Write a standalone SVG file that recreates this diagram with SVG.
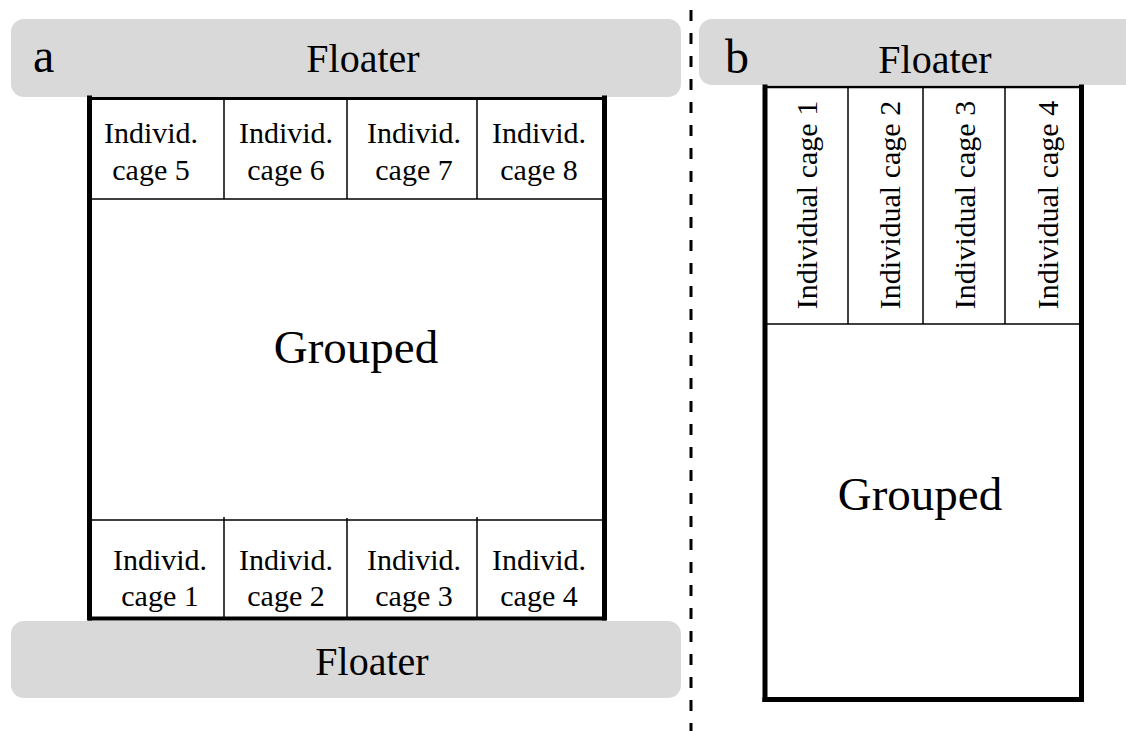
<svg xmlns="http://www.w3.org/2000/svg" width="1126" height="731" viewBox="0 0 1126 731">
<style>
text{font-family:"Liberation Serif","Times New Roman",serif;fill:#000}
.fl{fill:#d9d9d9}
.lbl{font-size:48px}
.fltx{font-size:40px;text-anchor:middle}
.cg{font-size:30px;text-anchor:middle}
.gr{font-size:47px;text-anchor:middle}
.thin{stroke:#000;stroke-width:1.5;fill:none}
.thick{stroke:#000;stroke-width:5;fill:none;stroke-linecap:square}
</style>
<rect width="1126" height="731" fill="#fff"/>
<g id="connectors">
<line x1="691" y1="10" x2="691" y2="731" stroke="#000" stroke-width="3" stroke-dasharray="11 12"/>
</g>
<g id="panel-a">
<g id="floater-a-top">
<rect class="fl" x="11" y="19" width="670" height="78" rx="13"/>
<text class="lbl" x="33" y="72">a</text>
<text class="fltx" x="363" y="72">Floater</text>
</g>
<g id="floater-a-bottom">
<rect class="fl" x="11" y="621" width="670" height="77" rx="13"/>
<text class="fltx" x="372" y="675">Floater</text>
</g>
<g id="cage-box-a">
<line class="thin" x1="89" y1="199" x2="604" y2="199"/>
<line class="thin" x1="89" y1="520" x2="604" y2="520"/>
<line class="thin" x1="224" y1="98" x2="224" y2="199"/>
<line class="thin" x1="347" y1="98" x2="347" y2="199"/>
<line class="thin" x1="477" y1="98" x2="477" y2="199"/>
<line class="thin" x1="224" y1="517" x2="224" y2="618"/>
<line class="thin" x1="347" y1="518" x2="347" y2="618"/>
<line class="thin" x1="477" y1="517" x2="477" y2="618"/>
<line x1="88" y1="98.5" x2="606" y2="98.5" stroke="#000" stroke-width="3"/>
<line x1="88" y1="618.5" x2="606" y2="618.5" stroke="#000" stroke-width="4"/>
<line class="thick" x1="89.5" y1="98" x2="89.5" y2="618"/>
<line class="thick" x1="604.5" y1="98" x2="604.5" y2="618"/>
</g>
<g id="cage-5"><text class="cg" x="151" y="143">Individ.</text><text class="cg" x="151" y="180">cage 5</text></g>
<g id="cage-6"><text class="cg" x="286" y="143">Individ.</text><text class="cg" x="286" y="180">cage 6</text></g>
<g id="cage-7"><text class="cg" x="414" y="143">Individ.</text><text class="cg" x="414" y="180">cage 7</text></g>
<g id="cage-8"><text class="cg" x="539" y="143">Individ.</text><text class="cg" x="539" y="180">cage 8</text></g>
<g id="grouped-a"><text class="gr" x="356" y="363">Grouped</text></g>
<g id="cage-1"><text class="cg" x="160" y="570">Individ.</text><text class="cg" x="160" y="606">cage 1</text></g>
<g id="cage-2"><text class="cg" x="286" y="570">Individ.</text><text class="cg" x="286" y="606">cage 2</text></g>
<g id="cage-3"><text class="cg" x="414" y="570">Individ.</text><text class="cg" x="414" y="606">cage 3</text></g>
<g id="cage-4"><text class="cg" x="539" y="570">Individ.</text><text class="cg" x="539" y="606">cage 4</text></g>
</g>
<g id="panel-b">
<g id="floater-b">
<rect class="fl" x="699" y="19" width="450" height="66" rx="13"/>
<text class="lbl" x="725" y="73">b</text>
<text class="fltx" x="935" y="73">Floater</text>
</g>
<g id="cage-box-b">
<line class="thin" x1="765" y1="324" x2="1081" y2="324"/>
<line class="thin" x1="848" y1="87" x2="848" y2="324"/>
<line class="thin" x1="923" y1="87" x2="923" y2="324"/>
<line class="thin" x1="1005" y1="87" x2="1005" y2="324"/>
<line x1="764" y1="87" x2="1082" y2="87" stroke="#000" stroke-width="2.5"/>
<line class="thick" x1="765" y1="87" x2="765" y2="699.5"/>
<line class="thick" x1="1081.5" y1="87" x2="1081.5" y2="699.5"/>
<line class="thick" x1="765" y1="699.5" x2="1081.5" y2="699.5"/>
</g>
<g id="b-cage-1"><text class="cg" transform="translate(816.5,205) rotate(-90)">Individual cage 1</text></g>
<g id="b-cage-2"><text class="cg" transform="translate(900,205) rotate(-90)">Individual cage 2</text></g>
<g id="b-cage-3"><text class="cg" transform="translate(975,205) rotate(-90)">Individual cage 3</text></g>
<g id="b-cage-4"><text class="cg" transform="translate(1058,205) rotate(-90)">Individual cage 4</text></g>
<g id="grouped-b"><text class="gr" x="920" y="510">Grouped</text></g>
</g>
</svg>
